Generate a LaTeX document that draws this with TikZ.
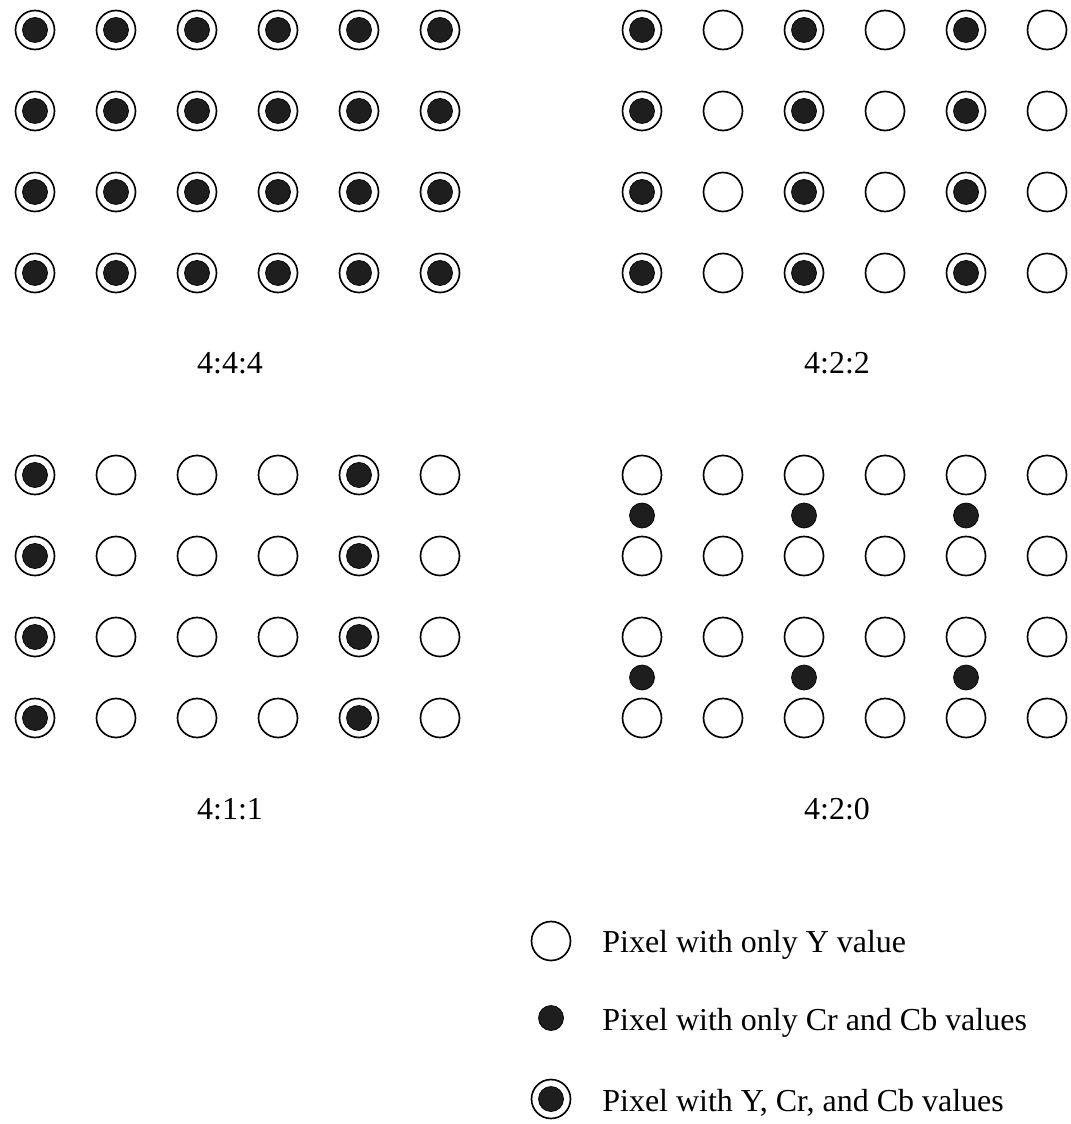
\documentclass[tikz,border=0pt]{standalone}
\usepackage{fontspec}
\setmainfont{Liberation Serif}
\definecolor{dotgray}{RGB}{30,30,30}
\tikzset{
  ypix/.style={circle,draw,line width=0.95pt,minimum size=0.78cm},
  cpix/.style={circle,draw,line width=0.4pt,fill=dotgray,minimum size=0.5cm},
  ycpix/.style={ypix,path picture={\filldraw[fill=dotgray,draw=black,line width=0.4pt] (path picture bounding box.center) circle (0.25cm);}},
  lbl/.style={font=\fontsize{18.2}{22}\selectfont}
}
\begin{document}
\begin{tikzpicture}[x=0.02cm,y=-0.02cm,line cap=round,line join=round,every node/.style={inner sep=0pt}]
  \useasboundingbox (0,0) rectangle (1070,1124);
  % 4:4:4
  \begin{scope}
    \foreach \r in {0,...,3}
      \foreach \c in {0,...,5}
        \node[ycpix] (a\r\c) at (35+81*\c,30+81*\r) {};
    \node[lbl,anchor=base] (la) at (230,374) {4:4:4};
  \end{scope}
  % 4:2:2
  \begin{scope}[shift={(607,0)}]
    \foreach \r in {0,...,3}
      \foreach \c/\s in {0/ycpix,1/ypix,2/ycpix,3/ypix,4/ycpix,5/ypix}
        \node[\s] (b\r\c) at (35+81*\c,30+81*\r) {};
    \node[lbl,anchor=base] (lb) at (230,374) {4:2:2};
  \end{scope}
  % 4:1:1
  \begin{scope}[shift={(0,445)}]
    \foreach \r in {0,...,3}
      \foreach \c/\s in {0/ycpix,1/ypix,2/ypix,3/ypix,4/ycpix,5/ypix}
        \node[\s] (c\r\c) at (35+81*\c,30+81*\r) {};
    \node[lbl,anchor=base] (lc) at (230,374) {4:1:1};
  \end{scope}
  % 4:2:0
  \begin{scope}[shift={(607,445)}]
    \foreach \r in {0,...,3}
      \foreach \c in {0,...,5}
        \node[ypix] (d\r\c) at (35+81*\c,30+81*\r) {};
    \foreach \r in {0,1}
      \foreach \c in {0,2,4}
        \node[cpix] (e\r\c) at (35+81*\c,70.5+162*\r) {};
    \node[lbl,anchor=base] (ld) at (230,374) {4:2:0};
  \end{scope}
  % legend
  \node[ypix] (ky) at (551,941) {};
  \node[cpix] (kc) at (551,1018) {};
  \node[ycpix] (kyc) at (551,1099) {};
  \node[lbl,anchor=base west] (ty) at (602,952) {Pixel with only Y value};
  \node[lbl,anchor=base west] (tc) at (602,1030) {Pixel with only Cr and Cb values};
  \node[lbl,anchor=base west] (tyc) at (602,1111) {Pixel with Y, Cr, and Cb values};
\end{tikzpicture}
\end{document}
